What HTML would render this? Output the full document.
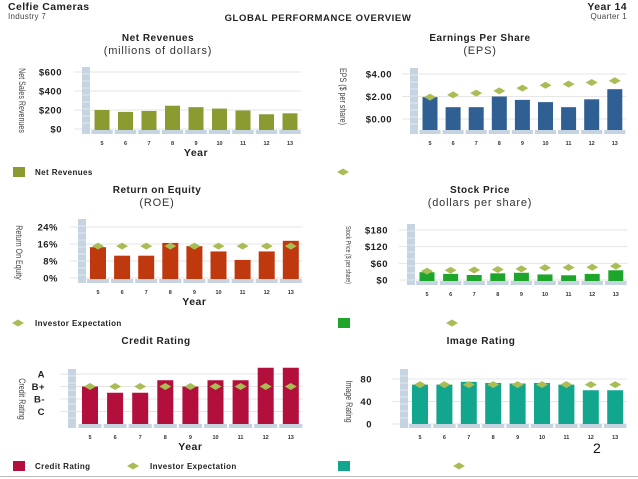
<!DOCTYPE html>
<html><head><meta charset="utf-8"><style>
html,body{margin:0;padding:0;background:#fff;}
svg{display:block;font-family:"Liberation Sans",sans-serif;}
</style></head><body>
<svg id="s" width="638" height="479" viewBox="0 0 638 479" xmlns="http://www.w3.org/2000/svg">
<g>
<text x="8" y="10" font-size="10.5" font-weight="bold" fill="#222" letter-spacing="0.4">Celfie Cameras</text>
<text x="8" y="19" font-size="8" fill="#444" letter-spacing="0.3">Industry 7</text>
<text x="318" y="21" font-size="9.5" font-weight="bold" text-anchor="middle" fill="#222" letter-spacing="0.6">GLOBAL PERFORMANCE OVERVIEW</text>
<text x="627" y="10" font-size="10.5" font-weight="bold" text-anchor="end" fill="#222" letter-spacing="0.4">Year 14</text>
<text x="627" y="19" font-size="8" text-anchor="end" fill="#444" letter-spacing="0.3">Quarter 1</text>
</g>
<text x="593" y="453" font-size="14" fill="#111">2</text>
<line x1="0" y1="476.5" x2="638" y2="476.5" stroke="#bbb"/>
</svg>
<script>
const years = ['5','6','7','8','9','10','11','12','13'];
const revenueValues = [200,180,190,245,230,215,195,155,165];
const revenueTicks = ['$0','$200','$400','$600'];
const epsValues = [1.95,1.05,1.05,2.0,1.7,1.5,1.05,1.75,2.65];
const epsExpect = [1.95,2.15,2.3,2.5,2.75,3.0,3.1,3.25,3.4];
const epsTicks = ['$0.00','$2.00','$4.00'];
const roeValues = [14.5,10.5,10.5,16.5,15,12.5,8.5,12.5,17.5];
const roeExpect = [15,15,15,15,15,15,15,15,15];
const roeTicks = ['0%','8%','16%','24%'];
const stockValues = [28,22,18,24,26,20,17,22,35];
const stockExpect = [32,35,36,38,40,44,45,46,50];
const stockTicks = ['$0','$60','$120','$180'];
const creditValues = [3,2.5,2.5,3.5,3,3.5,3.5,4.5,4.5];
const creditExpect = [3,3,3,3,3,3,3,3,3];
const creditTicks = ['C','B-','B+','A'];
const imageValues = [70,70,75,73,72,73,70,60,60];
const imageExpect = [70,70,70,70,70,70,70,70,70];
const imageTicks = ['0','40','80'];

const NS='http://www.w3.org/2000/svg';
const svg=document.getElementById('s');
function mk(tag,attrs,parent,txt){const e=document.createElementNS(NS,tag);for(const k in attrs)e.setAttribute(k,attrs[k]);if(txt!==undefined)e.textContent=txt;(parent||svg).appendChild(e);return e;}
function dia(xx,yy){return `${xx-6},${yy} ${xx},${yy-3.5} ${xx+6},${yy} ${xx},${yy+3.5}`;}

function chart(c){
  const g=mk('g',{});
  
  
  const y=v=>c.y0-(v-c.vmin)/(c.vmax-c.vmin)*(c.y0-c.yTop);
  const x=i=>c.x0+i*c.dx;
  const t1=mk('text',{x:c.cx,y:c.ty,'font-size':10,'font-weight':'bold','text-anchor':'middle',fill:'#222','letter-spacing':'0.5'},g,c.title);
  
  
  if(c.sub){const t2=mk('text',{x:c.cx,y:c.ty+13,'font-size':11,'text-anchor':'middle',fill:'#333','letter-spacing':'0.8'},g,c.sub);
    
    }
  c.ticks.forEach((t,i)=>{const v=c.tickVals[i];const yy=y(v);
    mk('line',{x1:c.wallX-8,x2:c.x0+8*c.dx+c.bw/2+4,y1:yy,y2:yy,stroke:'#e6e6e6','stroke-width':1},g);
    const tl=mk('text',{x:c.labX,y:yy+3.5,'font-size':c.tfs||9,'font-weight':'bold','text-anchor':'end',fill:'#222','letter-spacing':'0.5'},g,t);
    
    
  });
  mk('rect',{x:c.wallX,y:c.wallTop,width:8,height:c.floorY+4-c.wallTop,fill:'#c6d4e2'},g);
  for(let yy=c.wallTop+7;yy<c.floorY;yy+=7)mk('line',{x1:c.wallX,x2:c.wallX+8,y1:yy,y2:yy,stroke:'#dfe7ef','stroke-width':1},g);
  years.forEach((yr,i)=>{mk('rect',{x:x(i)-c.dx/2+1,y:c.floorY,width:c.dx-2,height:4,fill:'#c6d4e2'},g);});
  c.vals.forEach((v,i)=>{const top=y(v);
    const b=mk('rect',{x:x(i)-c.bw/2,y:top,width:c.bw,height:c.floorY-top,fill:c.color},g);
    
    
  });
  if(c.exp)c.exp.forEach((v,i)=>{const yy=y(v),xx=x(i);
    const d=mk('polygon',{points:dia(xx,yy),fill:'#a9bd55'},g);
    
    
  });
  years.forEach((yr,i)=>{const l=mk('text',{x:x(i),y:c.floorY+15,'font-size':5.5,'font-weight':'bold','text-anchor':'middle',fill:'#333'},g,yr);
    
    });
  if(c.xTitle){const xt=mk('text',{x:c.x0+4*c.dx,y:c.floorY+26,'font-size':10.5,'font-weight':'bold','text-anchor':'middle',fill:'#222','letter-spacing':'0.5'},g,'Year');
    
    }
  const midY=(c.yTop+c.y0)/2;
  const at=mk('text',{x:0,y:0,'font-size':c.afs||9.5,'text-anchor':'middle',fill:'#444',transform:`translate(${c.axX},${midY}) rotate(90) scale(0.75,1)`},g,c.axTitle);
  
  
}

function legSquare(xx,yy,col,txt){const r=mk('rect',{x:xx,y:yy-5,width:12,height:10,fill:col});
  
  
  if(txt){const t=mk('text',{x:xx+22,y:yy+3,'font-size':8,'font-weight':'bold',fill:'#222','letter-spacing':'0.4'},null,txt);
  
  }}
function legDiamond(xx,yy,txt){const d=mk('polygon',{points:dia(xx,yy),fill:'#a9bd55'});
  
  
  if(txt){const t=mk('text',{x:xx+17,y:yy+3,'font-size':8,'font-weight':'bold',fill:'#222','letter-spacing':'0.4'},null,txt);
  
  }}

chart({id:'net-revenues',title:'Net Revenues',sub:'(millions of dollars)',cx:158,ty:41,vals:revenueValues,ticks:revenueTicks,tickVals:[0,200,400,600],vmin:0,vmax:600,y0:129,yTop:72,x0:102,dx:23.5,bw:15,wallX:82,wallTop:67,floorY:130,labX:62,color:'#8b9b32',xTitle:true,axX:19,axTitle:'Net Sales Revenues',tfs:9.5});
chart({id:'eps',title:'Earnings Per Share',sub:'(EPS)',cx:480,ty:41,vals:epsValues,exp:epsExpect,ticks:epsTicks,tickVals:[0,2,4],vmin:0,vmax:4,y0:119,yTop:74,x0:430,dx:23.1,bw:15,wallX:410,wallTop:68,floorY:130,labX:392,color:'#2f5f93',axX:340,axTitle:'EPS ($ per share)',tfs:9.5});
chart({id:'roe',title:'Return on Equity',sub:'(ROE)',cx:157,ty:193,vals:roeValues,exp:roeExpect,ticks:roeTicks,tickVals:[0,8,16,24],vmin:0,vmax:24,y0:278,yTop:227,x0:98,dx:24.1,bw:16,wallX:78,wallTop:219,floorY:279,labX:58,color:'#c0380e',xTitle:true,axX:16,axTitle:'Return On Equity',tfs:9.5});
chart({id:'stock-price',title:'Stock Price',sub:'(dollars per share)',cx:480,ty:193,vals:stockValues,exp:stockExpect,ticks:stockTicks,tickVals:[0,60,120,180],vmin:0,vmax:180,y0:280,yTop:230,x0:427,dx:23.6,bw:15,wallX:407,wallTop:224,floorY:281,labX:388,color:'#1ea52c',axX:346,axTitle:'Stock Price ($ per share)',afs:7,tfs:9.5});
chart({id:'credit-rating',title:'Credit Rating',cx:156,ty:344,vals:creditValues,exp:creditExpect,ticks:creditTicks,tickVals:[1,2,3,4],vmin:0,vmax:4,y0:424,yTop:374,x0:90,dx:25.1,bw:16,wallX:68,wallTop:369,floorY:424,labX:45,color:'#b20f3c',xTitle:true,axX:19,axTitle:'Credit Rating',tfs:9.5});
chart({id:'image-rating',title:'Image Rating',cx:481,ty:344,vals:imageValues,exp:imageExpect,ticks:imageTicks,tickVals:[0,40,80],vmin:0,vmax:80,y0:424,yTop:379,x0:420,dx:24.4,bw:16,wallX:400,wallTop:369,floorY:424,labX:372,color:'#12a68e',axX:346,axTitle:'Image Rating',tfs:9.5});

legSquare(13,172,'#8b9b32','Net Revenues');
legDiamond(343,172);
legDiamond(18,323,'Investor Expectation');
legSquare(338,323,'#1ea52c');
legDiamond(452,323);
legSquare(13,466,'#b20f3c','Credit Rating');
legDiamond(133,466,'Investor Expectation');
legSquare(338,466,'#12a68e');
legDiamond(459,466);
</script>
</body></html>
